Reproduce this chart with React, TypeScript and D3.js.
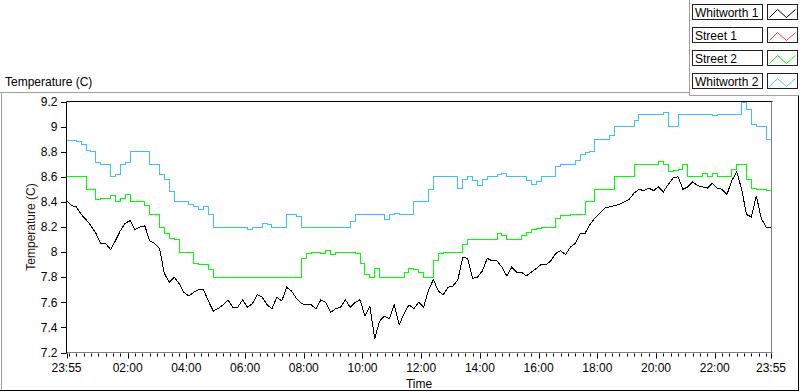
import React from 'react';
import * as d3 from 'd3';

// one sample every 10 minutes, 23:55 -> 23:55 next day
const sampleStep = 10;
const startTime = new Date(2020, 0, 1, 23, 55);
const endTime = new Date(2020, 0, 2, 23, 55);

const seriesNames = ['Whitworth 1', 'Street 1', 'Street 2', 'Whitworth 2'];
const seriesColors = ['#000000', '#ff3b3b', '#00ff00', '#3fbfff'];

const whitworth1 = [
  8.41, 8.37, 8.36, 8.30, 8.26, 8.21, 8.15, 8.07, 8.07, 8.02,
  8.09, 8.17, 8.23, 8.25, 8.18, 8.20, 8.21, 8.09, 8.07, 8.03,
  7.83, 7.76, 7.80, 7.75, 7.68, 7.65, 7.68, 7.70, 7.70, 7.61,
  7.53, 7.55, 7.58, 7.62, 7.56, 7.56, 7.62, 7.56, 7.59, 7.66,
  7.64, 7.58, 7.55, 7.64, 7.61, 7.72, 7.69, 7.63, 7.59, 7.58,
  7.58, 7.55, 7.62, 7.60, 7.52, 7.55, 7.56, 7.62, 7.56, 7.60,
  7.62, 7.49, 7.57, 7.31, 7.45, 7.49, 7.47, 7.58, 7.42, 7.51,
  7.58, 7.55, 7.60, 7.56, 7.70, 7.78, 7.69, 7.66, 7.72, 7.73,
  7.78, 7.96, 7.95, 7.79, 7.80, 7.85, 7.95, 7.93, 7.93, 7.88,
  7.81, 7.88, 7.84, 7.84, 7.81, 7.84, 7.87, 7.90, 7.90, 7.93,
  7.99, 8.01, 7.98, 8.04, 8.07, 8.15, 8.15, 8.22, 8.27, 8.31,
  8.35, 8.36, 8.37, 8.38, 8.40, 8.42, 8.47, 8.50, 8.49, 8.51,
  8.49, 8.52, 8.48, 8.54, 8.59, 8.60, 8.50, 8.52, 8.56, 8.53,
  8.52, 8.51, 8.55, 8.51, 8.50, 8.46, 8.57, 8.64, 8.50, 8.30,
  8.28, 8.45, 8.27, 8.20, 8.20,
];

const street1: number[] = [];

const street2 = [
  8.60, 8.60, 8.60, 8.60, 8.50, 8.50, 8.42, 8.43, 8.43, 8.45,
  8.40, 8.43, 8.46, 8.40, 8.40, 8.40, 8.37, 8.30, 8.30, 8.20,
  8.15, 8.11, 8.10, 8.00, 8.00, 8.00, 7.91, 7.90, 7.90, 7.86,
  7.80, 7.80, 7.80, 7.80, 7.80, 7.80, 7.80, 7.80, 7.80, 7.80,
  7.80, 7.80, 7.80, 7.80, 7.80, 7.80, 7.80, 7.80, 7.95, 7.99,
  8.00, 8.00, 7.99, 8.01, 7.98, 8.00, 8.00, 8.00, 8.00, 7.99,
  7.91, 7.82, 7.80, 7.87, 7.80, 7.80, 7.80, 7.80, 7.80, 7.84,
  7.87, 7.86, 7.84, 7.80, 7.80, 7.93, 7.99, 8.00, 8.00, 8.00,
  8.00, 8.06, 8.10, 8.10, 8.10, 8.10, 8.10, 8.10, 8.15, 8.13,
  8.10, 8.10, 8.10, 8.13, 8.16, 8.18, 8.19, 8.20, 8.20, 8.20,
  8.27, 8.29, 8.29, 8.30, 8.30, 8.30, 8.40, 8.40, 8.50, 8.50,
  8.50, 8.50, 8.60, 8.60, 8.60, 8.60, 8.70, 8.70, 8.70, 8.70,
  8.70, 8.72, 8.70, 8.64, 8.65, 8.66, 8.70, 8.60, 8.60, 8.60,
  8.63, 8.60, 8.63, 8.60, 8.60, 8.60, 8.66, 8.70, 8.70, 8.58,
  8.51, 8.50, 8.50, 8.49, 8.49,
];

const whitworth2 = [
  8.89, 8.89, 8.88, 8.86, 8.81, 8.80, 8.71, 8.70, 8.70, 8.60,
  8.62, 8.70, 8.71, 8.80, 8.80, 8.80, 8.80, 8.70, 8.70, 8.62,
  8.58, 8.48, 8.40, 8.40, 8.40, 8.38, 8.36, 8.34, 8.36, 8.30,
  8.20, 8.20, 8.20, 8.20, 8.20, 8.20, 8.20, 8.18, 8.20, 8.20,
  8.23, 8.22, 8.20, 8.20, 8.20, 8.30, 8.30, 8.28, 8.20, 8.20,
  8.20, 8.20, 8.20, 8.20, 8.20, 8.20, 8.20, 8.20, 8.24, 8.30,
  8.30, 8.30, 8.30, 8.30, 8.30, 8.26, 8.30, 8.31, 8.30, 8.30,
  8.30, 8.40, 8.40, 8.40, 8.50, 8.60, 8.60, 8.60, 8.60, 8.60,
  8.51, 8.58, 8.60, 8.57, 8.53, 8.58, 8.60, 8.60, 8.62, 8.63,
  8.60, 8.60, 8.60, 8.60, 8.57, 8.54, 8.56, 8.60, 8.60, 8.60,
  8.68, 8.70, 8.70, 8.70, 8.73, 8.78, 8.79, 8.80, 8.90, 8.90,
  8.90, 8.93, 9.00, 9.00, 9.00, 9.00, 9.05, 9.10, 9.10, 9.10,
  9.10, 9.10, 9.11, 9.00, 9.00, 9.10, 9.10, 9.10, 9.10, 9.10,
  9.10, 9.10, 9.09, 9.10, 9.10, 9.10, 9.10, 9.10, 9.19, 9.14,
  9.02, 9.00, 9.00, 8.90, 8.90,
];

const yTickValues = [7.2, 7.4, 7.6, 7.8, 8, 8.2, 8.4, 8.6, 8.8, 9, 9.2];

const seriesData = [whitworth1, street1, street2, whitworth2];
const stepped = [false, true, true, true];

const FONT = '"Liberation Sans", Arial, sans-serif';

const App = () => {
  const W = 800;
  const H = 392;
  const left = 66.5;
  const right = 771.5;
  const top = 101.5;
  const bottom = 352.5;

  const x = d3.scaleTime().domain([startTime, endTime]).range([left, right - 0.5]);
  const y = d3.scaleLinear().domain([7.2, 9.2]).range([bottom, top]);

  const timeAt = (i: number) => d3.timeMinute.offset(startTime, i * sampleStep);

  const paths = seriesData.map((vals, s) => {
    const line = d3.line<number>()
      .x((_, i) => x(timeAt(i)))
      .y(d => y(d))
      .curve(stepped[s] ? d3.curveStepAfter : d3.curveLinear);
    return vals.length ? line(vals) : null;
  });

  const fmt = d3.timeFormat('%H:%M');
  const minorTicks = d3.timeMinute.every(15)!.range(startTime, endTime);
  const evenHours = d3.timeHour.every(2)!.range(startTime, endTime).filter(d => d.getHours() !== 0);
  const majorTicks = [startTime, ...evenHours, endTime];

  const legendX = 692.5;
  const swatchX = 767.5;
  const rowTop = (i: number) => 4.5 + i * 23;
  const zig = d3.line<[number, number]>();

  return (
    <svg width={W} height={H} style={{ position: 'absolute', left: 0, top: 0, background: '#fff' }}
      fontFamily={FONT}>
      {/* outer frame */}
      <line x1={0} x2={689.5} y1={92.5} y2={92.5} stroke="#a0a0a0" />
      <line x1={689.5} x2={689.5} y1={0} y2={95.5} stroke="#a0a0a0" />
      <line x1={689.5} x2={798} y1={95.5} y2={95.5} stroke="#a0a0a0" />
      <line x1={1.5} x2={1.5} y1={92.5} y2={390} stroke="#a0a0a0" />
      <line x1={0} x2={799} y1={390.5} y2={390.5} stroke="#000" />
      <line x1={798.5} x2={798.5} y1={95.5} y2={391} stroke="#000" />

      <text x={5} y={86} fontSize={12} fill="#000">Temperature (C)</text>

      {/* legend */}
      {seriesNames.map((name, i) => (
        <g key={name}>
          <rect x={legendX} y={rowTop(i)} width={70} height={15} fill="#fff" stroke="#202020" />
          <text x={legendX + 2.5} y={rowTop(i) + 12} fontSize={12} fill="#000">{name}</text>
          <rect x={swatchX} y={rowTop(i)} width={30} height={15} fill="#fff" stroke="#202020" />
          <path
            d={zig([
              [swatchX + 2, rowTop(i) + 13],
              [swatchX + 10, rowTop(i) + 5],
              [swatchX + 19, rowTop(i) + 13],
              [swatchX + 28, rowTop(i) + 5],
            ]) || ''}
            fill="none" stroke={seriesColors[i]} strokeWidth={1} />
        </g>
      ))}

      {/* plot frame */}
      <line x1={left} x2={right + 1} y1={top} y2={top} stroke="#000" />
      <line x1={right} x2={right} y1={top} y2={bottom + 1} stroke="#808080" />
      <line x1={left} x2={right + 1} y1={bottom} y2={bottom} stroke="#808080" />
      <line x1={left} x2={left} y1={top} y2={bottom + 1} stroke="#000" />

      {/* data */}
      <g clipPath="url(#plotclip)">
        {paths.map((d, i) => d && (
          <path key={i} d={d} fill="none" stroke={seriesColors[i]} strokeWidth={1}
            shapeRendering="crispEdges" />
        ))}
      </g>
      <defs>
        <clipPath id="plotclip">
          <rect x={left} y={top - 1} width={right - left + 1} height={bottom - top + 2} />
        </clipPath>
      </defs>

      {/* y axis */}
      {yTickValues.map(v => (
        <g key={v}>
          <line x1={left - 5.5} x2={left} y1={Math.round(y(v)) + 0.5} y2={Math.round(y(v)) + 0.5} stroke="#000" />
          <text x={57.5} y={y(v)} dy="0.35em" textAnchor="end" fontSize={12} fill="#000">
            {String(+v.toFixed(1))}
          </text>
        </g>
      ))}
      <text transform="translate(35,227) rotate(-90)" textAnchor="middle" fontSize={12} fill="#2a1414">
        Temperature (C)
      </text>

      {/* x axis */}
      {minorTicks.map((t, i) => (
        <line key={'m' + i} x1={Math.round(x(t)) + 0.5} x2={Math.round(x(t)) + 0.5} y1={bottom + 1} y2={bottom + 4}
          stroke="#000" />
      ))}
      {majorTicks.map((t, i) => (
        <g key={'M' + i}>
          <line x1={Math.round(x(t)) + 0.5} x2={Math.round(x(t)) + 0.5} y1={bottom + 1} y2={bottom + 6} stroke="#000" />
          <text x={x(t)} y={371.5} textAnchor="middle" fontSize={12} fill="#000">{fmt(t)}</text>
        </g>
      ))}
      <text x={419} y={388} textAnchor="middle" fontSize={12} fill="#000">Time</text>
    </svg>
  );
};

export default App;
